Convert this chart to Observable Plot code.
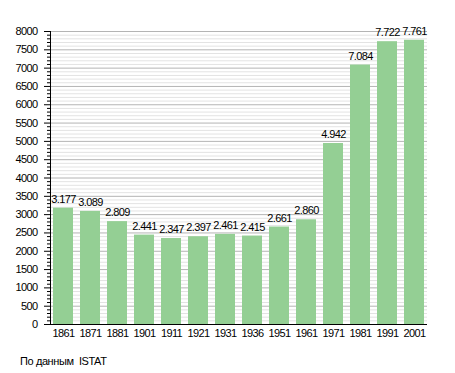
<!DOCTYPE html>
<html><head><meta charset="utf-8">
<script src="https://cdn.jsdelivr.net/npm/d3@7"></script>
<script src="https://cdn.jsdelivr.net/npm/@observablehq/plot@0.6"></script>
<style>
body{margin:0;background:#fff;font-family:"Liberation Sans",Arial,sans-serif;}
#wrap{position:relative;width:455px;height:373px;}
#cap{position:absolute;left:20px;top:355px;font-size:11px;color:#000;letter-spacing:-0.4px;}
#chart svg text{letter-spacing:-0.6px;}
</style></head><body>
<div id="wrap"><div id="chart"></div><div id="cap">По данным&nbsp; ISTAT</div></div>
<script>
const years = ["1861","1871","1881","1901","1911","1921","1931","1936","1951","1961","1971","1981","1991","2001"];
const population = [3177,3089,2809,2441,2347,2397,2461,2415,2661,2860,4942,7084,7722,7761];
const majorTicks = d3.range(0, 8001, 500);
const minorTicks = d3.range(0, 8001, 100).filter(v => v % 500 !== 0);

const data = years.map((y, i) => ({year: y, value: population[i]}));
const fmt = d3.formatLocale({decimal: ",", thousands: ".", grouping: [3], currency: ["", ""]}).format(",");

const chart = Plot.plot({
  width: 455, height: 345,
  marginLeft: 50, marginRight: 28, marginTop: 31, marginBottom: 21,
  style: {fontFamily: "'Liberation Sans', Arial, sans-serif", fontSize: "11px", color: "#000", background: "#fff"},
  x: {domain: years, paddingInner: 0.27, paddingOuter: 0.05, label: null},
  y: {domain: [0, 8000], label: null},
  marks: [
    Plot.ruleY(minorTicks, {stroke: "#e3e3e3", strokeWidth: 1}),
    Plot.ruleY(majorTicks, {stroke: "#b4b4b4", strokeWidth: 1}),
    Plot.barY(data, {x: "year", y: "value", fill: "#94cf94"}),
    Plot.text(data, {x: "year", y: "value", text: d => fmt(d.value), dy: -9, fill: "#000", fontSize: 11}),
    Plot.axisY(minorTicks, {tickSize: 3, text: null, tickFormat: null, stroke: "#000"}),
    Plot.axisY(majorTicks, {tickSize: 6, tickPadding: 7, tickFormat: d => String(d), stroke: "#000", fill: "#000", fontSize: 11}),
    Plot.axisX({tickSize: 0, tickPadding: 5, fill: "#000", fontSize: 11}),
    Plot.frame({anchor: "left", stroke: "#000"}),
    Plot.ruleY([0], {stroke: "#000"})
  ]
});
document.getElementById("chart").appendChild(chart);
</script>
</body></html>
